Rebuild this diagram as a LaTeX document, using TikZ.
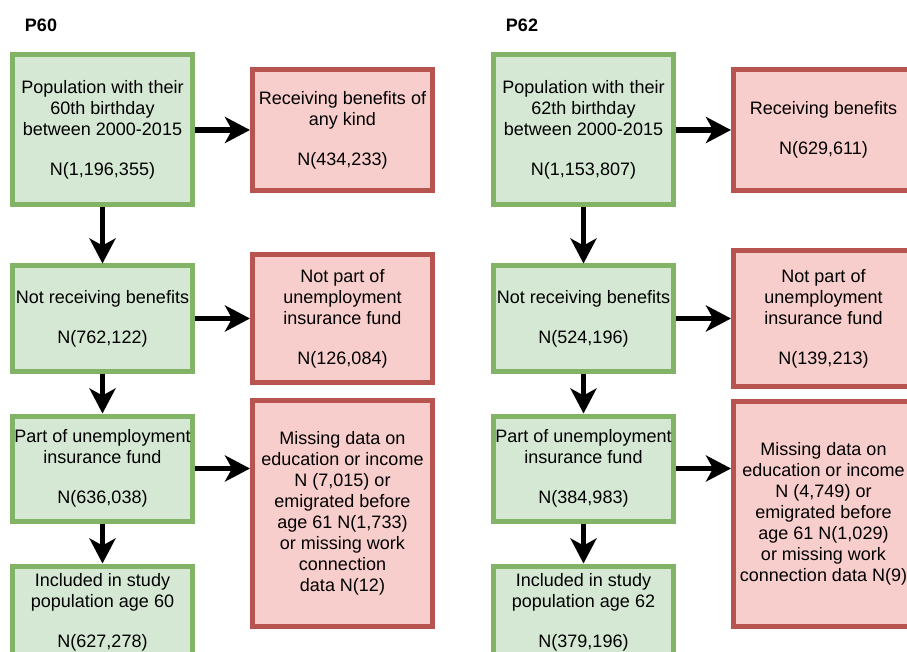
\documentclass[tikz,border=0pt]{standalone}
\usepackage{fontspec}
\setmainfont{Liberation Sans}
\usetikzlibrary{arrows.meta,positioning}
\definecolor{flgreen}{HTML}{82B366}
\definecolor{flgreenbg}{HTML}{D5E8D4}
\definecolor{flred}{HTML}{B85450}
\definecolor{flredbg}{HTML}{F8CECC}

\begin{document}
\begin{tikzpicture}[
  x=1pt, y=-1pt,
  node distance=40pt,
  keep/.style={draw=flgreen, line width=5pt, fill=flgreenbg,
               font=\fontsize{18}{21}\selectfont, align=center, inner sep=0pt,
               minimum width=180pt, minimum height=105pt, text=black},
  drop/.style={draw=flred, line width=5pt, fill=flredbg,
               font=\fontsize{18}{21}\selectfont, align=center, inner sep=0pt,
               minimum width=180pt, text=black},
  arrow/.style={-{Stealth[length=25pt, width=26pt, inset=7pt]}, black, line width=5.5pt},
  lbl/.style={font=\fontsize{18}{21}\selectfont\bfseries, text=black},
]
\useasboundingbox (0,0) rectangle (907,652);
\clip (0,0) rectangle (907,652);

%% ---- P60 ----
\node[lbl] (p60) at (41,25) {P60};
\node[keep, minimum height=150pt] (a1) at (102.5,130) {Population with their\\60th birthday\\between 2000-2015\\[19pt]N(1,196,355)};
\node[drop, minimum height=121pt, right=55pt of a1] (ax1) {Receiving benefits of\\any kind\\[19pt]N(434,233)};
\node[keep, below=56pt of a1] (a2) {Not receiving benefits\\[19pt]N(762,122)};
\node[drop, minimum height=127pt, right=55pt of a2] (ax2) {Not part of\\unemployment\\insurance fund\\[19pt]N(126,084)};
\node[keep, below=of a2] (a3) {Part of unemployment\\insurance fund\\[19pt]N(636,038)};
\node[drop, minimum height=226pt, below=13pt of ax2] (ax3) {Missing data on\\education or income\\N (7,015) or\\emigrated before\\age 61 N(1,733)\\or missing work\\connection\\data N(12)};
\node[keep, minimum height=92pt, below=of a3] (a4) {Included in study\\population age 60\\[19pt]N(627,278)};

\draw[arrow] (a1.east) -- (ax1.west);
\draw[arrow] (a1.south) -- (a2.north);
\draw[arrow] (a2.east) -- (ax2.west);
\draw[arrow] (a2.south) -- (a3.north);
\draw[arrow] (a3.east) -- (a3.east -| ax3.west);
\draw[arrow] (a3.south) -- (a4.north);

%% ---- P62 ----
\node[lbl] (p62) at (522,25) {P62};
\node[keep, minimum height=150pt, right=56pt of ax1] (b1) {Population with their\\62th birthday\\between 2000-2015\\[19pt]N(1,153,807)};
\node[drop, minimum height=121pt, right=55pt of b1] (bx1) {Receiving benefits\\[19pt]N(629,611)};
\node[keep, below=56pt of b1] (b2) {Not receiving benefits\\[19pt]N(524,196)};
\node[drop, minimum height=135pt, right=55pt of b2] (bx2) {Not part of\\unemployment\\insurance fund\\[19pt]N(139,213)};
\node[keep, below=of b2] (b3) {Part of unemployment\\insurance fund\\[19pt]N(384,983)};
\node[drop, minimum height=225pt, below=10pt of bx2] (bx3) {Missing data on\\education or income\\N (4,749) or\\emigrated before\\age 61 N(1,029)\\or missing work\\connection data N(9)};
\node[keep, minimum height=92pt, below=of b3] (b4) {Included in study\\population age 62\\[19pt]N(379,196)};

\draw[arrow] (b1.east) -- (bx1.west);
\draw[arrow] (b1.south) -- (b2.north);
\draw[arrow] (b2.east) -- (bx2.west);
\draw[arrow] (b2.south) -- (b3.north);
\draw[arrow] (b3.east) -- (b3.east -| bx3.west);
\draw[arrow] (b3.south) -- (b4.north);

\end{tikzpicture}
\end{document}
